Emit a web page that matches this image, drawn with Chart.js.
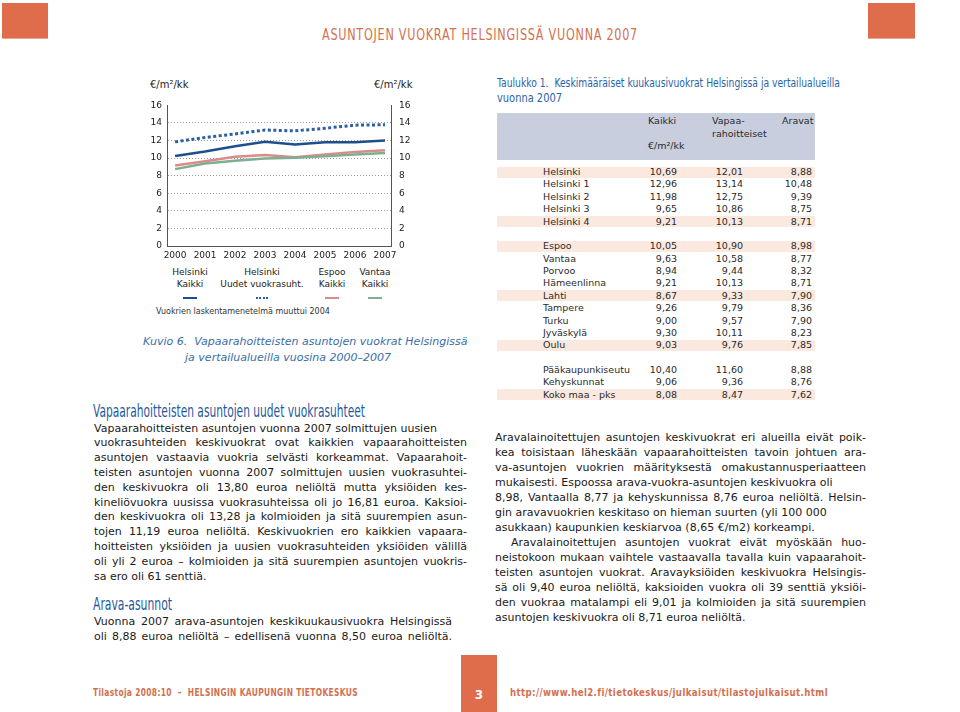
<!DOCTYPE html>
<html><head><meta charset="utf-8">
<script src="https://cdn.jsdelivr.net/npm/chart.js@4.4.0/dist/chart.umd.min.js"></script>
<style>
html,body{margin:0;padding:0;background:#fff;}
body{width:960px;height:712px;position:relative;overflow:hidden;font-family:"DejaVu Sans",Verdana,sans-serif;color:#1a1a1a;}
.a{position:absolute;white-space:nowrap;}
.fit{display:inline-block;transform-origin:0 0;}
.ln{position:absolute;white-space:nowrap;text-align:justify;font-size:11px;line-height:15px;transform-origin:0 0;}
.box{position:absolute;background:#df6d4c;}
.cond{font-family:"DejaVu Sans",sans-serif;}
.tb{position:absolute;font-size:9.5px;line-height:12px;white-space:nowrap;color:#2a2a2a;}
</style>
</head><body>
<div class="box" style="left:2px;top:3px;width:46px;height:35px;border-bottom:1px solid #eaa58f"></div>
<div class="box" style="left:868px;top:3px;width:47px;height:35px;border-bottom:1px solid #eaa58f"></div>
<div class="a fit cond" data-w="316" style="left:322px;top:26px;font-size:15px;line-height:18px;color:#d4704f;letter-spacing:1px">ASUNTOJEN VUOKRAT HELSINGISSÄ VUONNA 2007</div>

<div class="a" style="left:150px;top:78px;font-size:10px;line-height:14px;color:#222">€/m²/kk</div>
<div class="a" style="left:374px;top:78px;font-size:10px;line-height:14px;color:#222">€/m²/kk</div>
<div style="position:absolute;left:140px;top:92px;width:280px;height:174px"><canvas id="c" width="280" height="174"></canvas></div>
<div id="legend"></div>
<div class="a" style="left:156px;top:306px;font-size:8px;line-height:11px;color:#333">Vuokrien laskentamenetelmä muuttui 2004</div>
<div class="a" style="left:143px;top:334px;font-size:11px;line-height:15px;color:#3a6ea8;font-style:italic">Kuvio 6.&nbsp; Vapaarahoitteisten asuntojen vuokrat Helsingissä</div>
<div class="a" style="left:143px;top:350px;width:290px;text-align:center;font-size:11px;line-height:15px;color:#3a6ea8;font-style:italic">ja vertailualueilla vuosina 2000–2007</div>

<div class="a fit cond" data-w="272" style="left:93px;top:401px;font-size:17px;line-height:20px;color:#1f5a9c">Vapaarahoitteisten asuntojen uudet vuokrasuhteet</div>
<div class="a fit cond" data-w="79" style="left:93px;top:594px;font-size:17px;line-height:20px;color:#1f5a9c">Arava-asunnot</div>

<div class="a fit cond" data-w="343" style="left:497px;top:74.5px;font-size:12.5px;line-height:15px;color:#2a64a8">Taulukko 1.&nbsp; Keskimääräiset kuukausivuokrat Helsingissä ja vertailualueilla</div>
<div class="a fit cond" data-w="65" style="left:497px;top:89.5px;font-size:12.5px;line-height:15px;color:#2a64a8">vuonna 2007</div>
<div style="position:absolute;left:497px;top:113px;width:318px;height:47px;background:#c9cedf"></div>
<div class="tb" style="left:648px;top:115px">Kaikki</div>
<div class="tb" style="left:712px;top:115px">Vapaa-</div>
<div class="tb" style="left:712px;top:128px">rahoitteiset</div>
<div class="tb" style="left:782px;top:115px">Aravat</div>
<div class="tb" style="left:648px;top:140px">€/m²/kk</div>
<div id="table"></div>

<div class="box" style="left:461px;top:655px;width:36px;height:57px"></div>
<div class="a" style="left:461px;top:687px;width:36px;text-align:center;font-size:12px;line-height:16px;color:#fff;font-weight:bold">3</div>
<div class="a fit cond" data-w="265" style="left:93px;top:686px;font-size:11px;line-height:14px;color:#d4704f;font-weight:bold;letter-spacing:0.5px">Tilastoja 2008:10&nbsp; –&nbsp; HELSINGIN KAUPUNGIN TIETOKESKUS</div>
<div class="a fit cond" data-w="318" style="left:510px;top:686px;font-size:11px;line-height:14px;color:#d4704f;font-weight:bold;letter-spacing:0.5px">http://www.hel2.fi/tietokeskus/julkaisut/tilastojulkaisut.html</div>

<script>
// ---- chart data ----
const years = [2000, 2001, 2002, 2003, 2004, 2005, 2006, 2007];
const helsinkiKaikki = [10.25, 10.75, 11.35, 11.85, 11.55, 11.8, 11.8, 12.01];
const helsinkiUudet = [11.85, 12.35, 12.75, 13.2, 13.1, 13.4, 13.75, 13.8];
const espooKaikki = [9.15, 9.65, 10.15, 10.35, 10.1, 10.4, 10.7, 10.9];
const vantaaKaikki = [8.75, 9.4, 9.7, 9.95, 10.05, 10.2, 10.4, 10.58];
const yTicks = [0, 2, 4, 6, 8, 10, 12, 14, 16];
const seriesLabels = [["Helsinki", "Kaikki"], ["Helsinki", "Uudet vuokrasuht."], ["Espoo", "Kaikki"], ["Vantaa", "Kaikki"]];

// ---- table data ----
const rowNames = ["Helsinki", "Helsinki 1", "Helsinki 2", "Helsinki 3", "Helsinki 4", "", "Espoo", "Vantaa", "Porvoo", "Hämeenlinna", "Lahti", "Tampere", "Turku", "Jyväskylä", "Oulu", "", "Pääkaupunkiseutu", "Kehyskunnat", "Koko maa - pks"];
const colKaikki = ["10,69", "12,96", "11,98", "9,65", "9,21", "", "10,05", "9,63", "8,94", "9,21", "8,67", "9,26", "9,00", "9,30", "9,03", "", "10,40", "9,06", "8,08"];
const colVapaa = ["12,01", "13,14", "12,75", "10,86", "10,13", "", "10,90", "10,58", "9,44", "10,13", "9,33", "9,79", "9,57", "10,11", "9,76", "", "11,60", "9,36", "8,47"];
const colAravat = ["8,88", "10,48", "9,39", "8,75", "8,71", "", "8,98", "8,77", "8,32", "8,71", "7,90", "8,36", "7,90", "8,23", "7,85", "", "8,88", "8,76", "7,62"];
const shadedRows = [0, 4, 6, 10, 14, 18];

const styles = [
  {color: '#1d4f8f', dash: [], width: 2.5},
  {color: '#2a5fa6', dash: [3, 2.5], width: 3},
  {color: '#dc8a8a', dash: [], width: 2.5},
  {color: '#7db091', dash: [], width: 2.5}
];
const seriesValues = [helsinkiKaikki, helsinkiUudet, espooKaikki, vantaaKaikki];

const datasets = seriesValues.map((vals, i) => ({
  label: seriesLabels[i].join(' '),
  data: years.map((y, k) => ({x: y, y: vals[k]})),
  borderColor: styles[i].color,
  borderWidth: styles[i].width,
  borderDash: styles[i].dash,
  pointRadius: 0,
  tension: 0,
  fill: false,
  order: 4 - i
}));

const tickFont = {family: 'DejaVu Sans', size: 9};
new Chart(document.getElementById('c'), {
  type: 'line',
  data: {datasets},
  options: {
    responsive: false,
    animation: false,
    devicePixelRatio: 1,
    layout: {padding: {top: 10, left: 0, right: 0, bottom: 0}},
    plugins: {legend: {display: false}, tooltip: {enabled: false}},
    scales: {
      x: {
        type: 'linear', min: 1999.73, max: 2007.2,
        afterBuildTicks: ax => { ax.ticks = years.map(v => ({value: v})); },
        afterFit: s => { s.height = 20; },
        grid: {display: false, drawTicks: false},
        border: {display: true, color: '#555', width: 1},
        ticks: {font: tickFont, color: '#222', padding: 4, maxRotation: 0, autoSkip: false, callback: v => String(v)}
      },
      y: {
        position: 'left', min: 0, max: 16,
        afterBuildTicks: ax => { ax.ticks = yTicks.map(v => ({value: v})); },
        afterFit: s => { s.width = 27; },
        grid: {color: c => (c.tick && (c.tick.value === 0 || c.tick.value === 16)) ? 'rgba(0,0,0,0)' : '#9a9a9a', lineWidth: 1, drawTicks: false},
        border: {display: true, color: '#555', width: 1, dash: [1, 2]},
        ticks: {font: tickFont, color: '#222', padding: 5}
      },
      y2: {
        position: 'right', min: 0, max: 16,
        afterBuildTicks: ax => { ax.ticks = yTicks.map(v => ({value: v})); },
        afterFit: s => { s.width = 29; },
        grid: {display: false, drawTicks: false, drawOnChartArea: false},
        border: {display: true, color: '#555', width: 1},
        ticks: {font: tickFont, color: '#222', padding: 8}
      }
    }
  }
});

// legend (HTML, from series labels/styles)
const legendX = [190, 262, 332, 375];
const leg = document.getElementById('legend');
seriesLabels.forEach((lab, i) => {
  const d = document.createElement('div');
  d.className = 'a';
  d.style.cssText = `left:${legendX[i] - 50}px;top:266px;width:100px;text-align:center;font-size:9px;line-height:12px;color:#222`;
  d.innerHTML = lab.join('<br>');
  leg.appendChild(d);
  const s = document.createElement('div');
  const w = i === 1 ? 12 : 14;
  s.style.cssText = `position:absolute;left:${legendX[i] - w / 2}px;top:297px;width:${w}px;height:0;border-top:2.5px ${i === 1 ? 'dotted' : 'solid'} ${styles[i].color}`;
  leg.appendChild(s);
});

// table
const tbl = document.getElementById('table');
const rowY0 = 166, rowH = 12.38;
rowNames.forEach((n, i) => {
  const top = rowY0 + i * rowH;
  if (shadedRows.includes(i)) {
    const b = document.createElement('div');
    b.style.cssText = `position:absolute;left:497px;top:${top + 0.5}px;width:318px;height:11px;background:#fbe8de`;
    tbl.appendChild(b);
  }
  if (!n) return;
  const cells = [[n, 543, 'left'], [colKaikki[i], 677, 'right'], [colVapaa[i], 743, 'right'], [colAravat[i], 812, 'right']];
  cells.forEach(([t, x, al]) => {
    const c = document.createElement('div');
    c.className = 'tb';
    c.textContent = t;
    if (al === 'left') c.style.left = x + 'px';
    else { c.style.left = (x - 80) + 'px'; c.style.width = '80px'; c.style.textAlign = 'right'; }
    c.style.top = top + 'px';
    tbl.appendChild(c);
  });
});

// body text
function place(lines, left, yc0, lh, width) {
  lines.forEach((l, i) => {
    const d = document.createElement('div');
    d.className = 'ln';
    const txt = typeof l === 'string' ? l : l.t;
    const just = typeof l === 'string' ? true : l.j !== false;
    const ind = typeof l === 'string' ? 0 : (l.i || 0);
    d.style.left = (left + ind) + 'px';
    d.style.top = (yc0 + i * lh - 7.5) + 'px';
    const w = width - ind;
    d.style.width = w + 'px';
    document.body.appendChild(d);
    const probe = document.createElement('span');
    probe.textContent = txt;
    d.appendChild(probe);
    const nat = probe.getBoundingClientRect().width;
    if (nat > w) {
      d.style.width = 'auto';
      d.style.transform = `scaleX(${w / nat})`;
    } else if (just) {
      d.style.textAlignLast = 'justify';
    }
  });
}
place([
  {t: 'Vapaarahoitteisten asuntojen vuonna 2007 solmittujen uusien', j: false},
  'vuokrasuhteiden keskivuokrat ovat kaikkien vapaarahoitteisten',
  'asuntojen vastaavia vuokria selvästi korkeammat. Vapaarahoit-',
  'teisten asuntojen vuonna 2007 solmittujen uusien vuokrasuhtei-',
  'den keskivuokra oli 13,80 euroa neliöltä mutta yksiöiden kes-',
  'kineliövuokra uusissa vuokrasuhteissa oli jo 16,81 euroa. Kaksioi-',
  'den keskivuokra oli 13,28 ja kolmioiden ja sitä suurempien asun-',
  'tojen 11,19 euroa neliöltä. Keskivuokrien ero kaikkien vapaara-',
  'hoitteisten yksiöiden ja uusien vuokrasuhteiden yksiöiden välillä',
  'oli yli 2 euroa – kolmioiden ja sitä suurempien asuntojen vuokris-',
  {t: 'sa ero oli 61 senttiä.', j: false}
], 94, 428, 14.8, 373);
place([
  'Vuonna 2007 arava-asuntojen keskikuukausivuokra Helsingissä',
  {t: 'oli 8,88 euroa neliöltä – edellisenä vuonna 8,50 euroa neliöltä.', j: true}
], 94, 621, 15.3, 358);
place([
  'Aravalainoitettujen asuntojen keskivuokrat eri alueilla eivät poik-',
  'kea toisistaan läheskään vapaarahoitteisten tavoin johtuen ara-',
  'va-asuntojen vuokrien määrityksestä omakustannusperiaatteen',
  {t: 'mukaisesti. Espoossa arava-vuokra-asuntojen keskivuokra oli', j: false},
  '8,98, Vantaalla 8,77 ja kehyskunnissa 8,76 euroa neliöltä. Helsin-',
  {t: 'gin aravavuokrien keskitaso on hieman suurten (yli 100 000', j: false},
  {t: 'asukkaan) kaupunkien keskiarvoa (8,65 €/m2) korkeampi.', j: false},
  {t: 'Aravalainoitettujen asuntojen vuokrat eivät myöskään huo-', i: 16},
  'neistokoon mukaan vaihtele vastaavalla tavalla kuin vapaarahoit-',
  'teisten asuntojen vuokrat. Aravayksiöiden keskivuokra Helsingis-',
  'sä oli 9,40 euroa neliöltä, kaksioiden vuokra oli 39 senttiä yksiöi-',
  'den vuokraa matalampi eli 9,01 ja kolmioiden ja sitä suurempien',
  {t: 'asuntojen keskivuokra oli 8,71 euroa neliöltä.', j: false}
], 495, 437, 15, 371);

// condensed headings fitted to their measured widths
document.querySelectorAll('.fit').forEach(el => {
  const w = el.getBoundingClientRect().width;
  const target = +el.dataset.w;
  el.style.transform = `scaleX(${target / w})`;
});
</script>
</body></html>
